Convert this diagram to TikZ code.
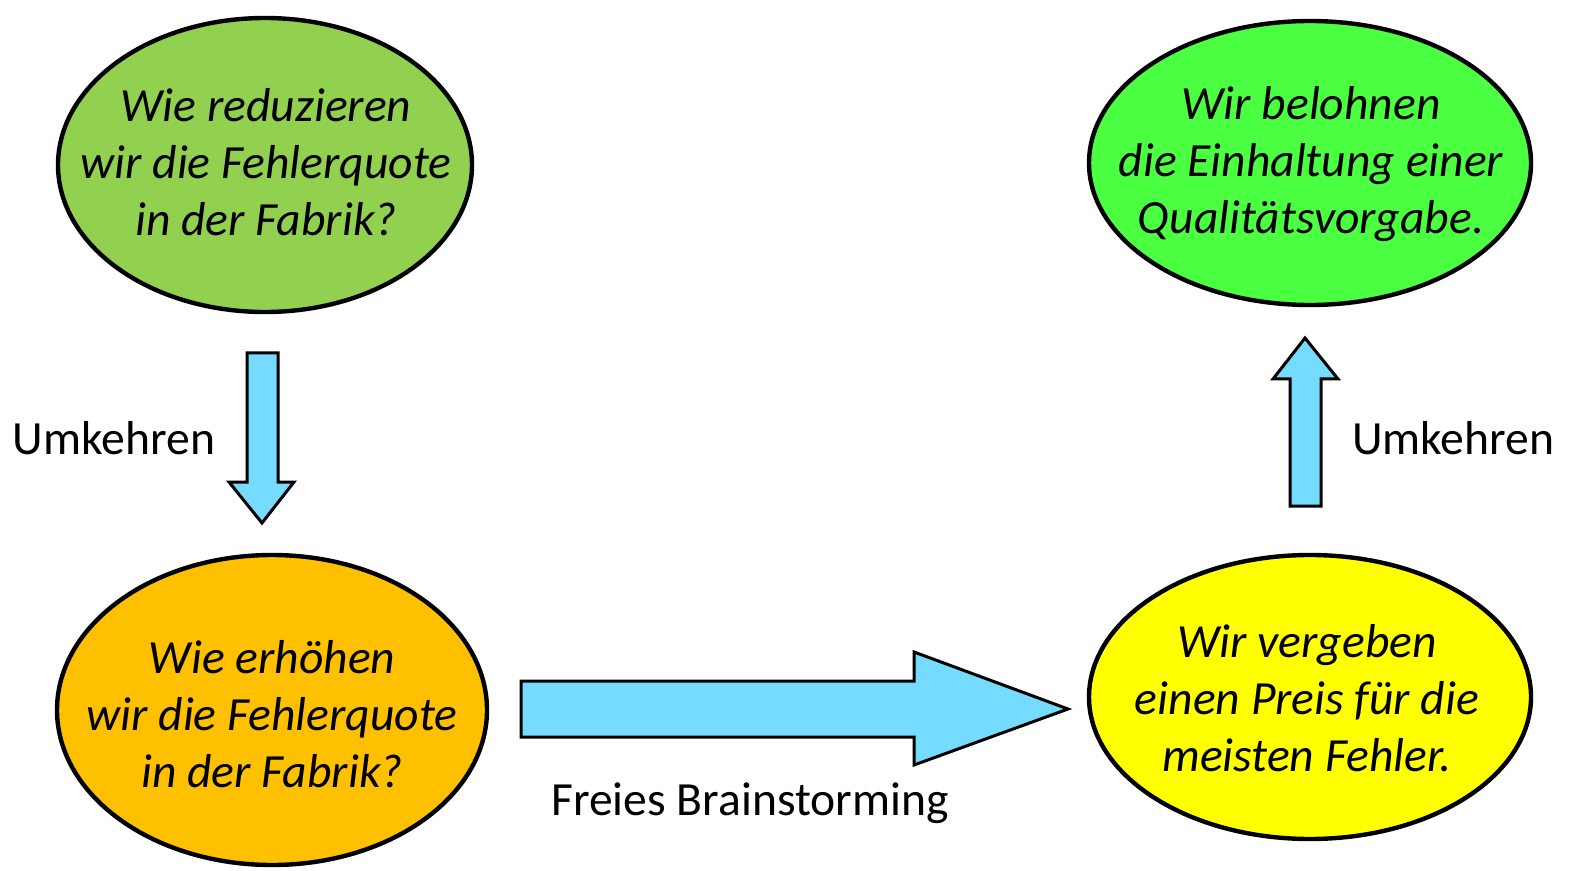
\documentclass[tikz,border=0pt]{standalone}
\usepackage{fontspec}
\setmainfont{Carlito}
\usetikzlibrary{shapes.geometric}
\definecolor{frageGruen}{RGB}{146,208,80}
\definecolor{zielGruen}{RGB}{75,255,65}
\definecolor{frageOrange}{RGB}{255,192,0}
\definecolor{ideeGelb}{RGB}{255,255,0}
\definecolor{pfeilBlau}{RGB}{117,219,255}
\begin{document}
\begin{tikzpicture}[x=0.5pt,y=-0.5pt]
                \tikzstyle{every node}+=[inner sep=0pt]
                \tikzstyle{bubble}=[ellipse, draw=black, line width=2.2pt]
                \tikzstyle{bubbletext}=[align=center, font=\fontsize{23.8}{28.5}\selectfont\itshape]
                \tikzstyle{blockpfeil}=[draw=black, line width=1.5pt, fill=pfeilBlau, line join=miter]
                \tikzstyle{beschrift}=[font=\fontsize{23.8}{28.5}\selectfont]
                \useasboundingbox (0,0) rectangle (1573,871);
                % Fragen und Ideen
                \node [bubble, fill=frageGruen, minimum width=207pt, minimum height=147pt] (reduzieren) at (265,165) {};
                \node [bubble, fill=zielGruen, minimum width=221pt, minimum height=142pt] (belohnen) at (1310,163) {};
                \node [bubble, fill=frageOrange, minimum width=215pt, minimum height=155pt] (erhoehen) at (272,710) {};
                \node [bubble, fill=ideeGelb, minimum width=221pt, minimum height=142pt] (vergeben) at (1310,697) {};
                \node [bubbletext] (reduzierenText) at (266,162) {Wie reduzieren\\wir die Fehlerquote\\in der Fabrik?};
                \node [bubbletext] (belohnenText) at (1311,164) {Wir belohnen\\die Einhaltung einer\\Qualitätsvorgabe.};
                \node [bubbletext] (erhoehenText) at (272,714) {Wie erhöhen\\wir die Fehlerquote\\in der Fabrik?};
                \node [bubbletext] (vergebenText) at (1307,698) {Wir vergeben\\einen Preis für die\\meisten Fehler.};
                % Pfeile
                \draw [blockpfeil] (247,353) -- (278,353) -- (278,482) -- (294,482) -- (262,523) -- (229,482) -- (247,482) -- cycle;
                \draw [blockpfeil] (521,681) -- (914,681) -- (914,652) -- (1068,709) -- (914,765) -- (914,737) -- (521,737) -- cycle;
                \draw [blockpfeil] (1290,506) -- (1321,506) -- (1321,379) -- (1338,379) -- (1305,338) -- (1273,379) -- (1290,379) -- cycle;
                % Beschriftungen
                \node [beschrift] (umkehrenL) at (114,438) {Umkehren};
                \node [beschrift] (umkehrenR) at (1453,438) {Umkehren};
                \node [beschrift] (brainstorm) at (750,803) {Freies Brainstorming};
            \end{tikzpicture}
\end{document}
